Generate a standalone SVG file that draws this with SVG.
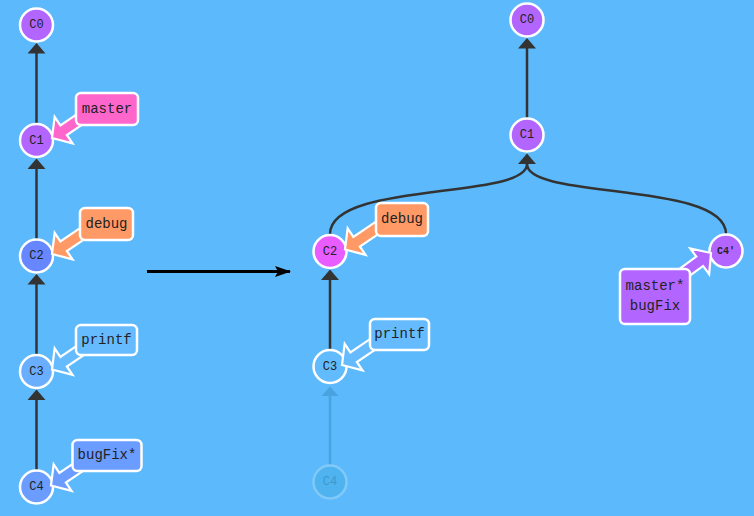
<svg xmlns="http://www.w3.org/2000/svg" xmlns:xlink="http://www.w3.org/1999/xlink" width="754" height="516" viewBox="0 0 754 516">
<style>
.edge{stroke:#333;stroke-width:2.5;fill:none}
.head{fill:#333}
.node{stroke:#fff;stroke-width:2.5}
.ctext{font-family:"Liberation Mono","DejaVu Sans Mono",monospace;font-size:12px;fill:#222;text-anchor:middle;dominant-baseline:central}
.box{stroke:#fff;stroke-width:2.5}
.btext{font-family:"Liberation Mono","Courier New",monospace;font-size:14px;fill:#222;text-anchor:middle;dominant-baseline:central}
.barrow{stroke:#fff;stroke-width:2.2;stroke-linejoin:miter}
</style>
<defs>
<polygon id="ba" points="-42,-5.8 -14,-5.8 -14,-16 0,0 -14,16 -14,5.8 -42,5.8"/>
<marker id="mid" markerWidth="16" markerHeight="12" refX="15" refY="6" orient="auto" markerUnits="userSpaceOnUse">
<path d="M0,0.5 L16,6 L0,11.5 L3,6 Z" fill="#000"/>
</marker>
</defs>
<rect x="0" y="0" width="754" height="516" fill="#5cbafc"/>

<g id="connectors">
<line class="edge" x1="36.5" y1="123" x2="36.5" y2="53"/>
<polygon class="head" points="36.5,43 27.5,53.5 45.5,53.5"/>
<line class="edge" x1="36.5" y1="239" x2="36.5" y2="168"/>
<polygon class="head" points="36.5,158.5 27.5,169 45.5,169"/>
<line class="edge" x1="36.5" y1="354" x2="36.5" y2="284"/>
<polygon class="head" points="36.5,274 27.5,284.5 45.5,284.5"/>
<line class="edge" x1="36.5" y1="470" x2="36.5" y2="399"/>
<polygon class="head" points="36.5,389.5 27.5,400 45.5,400"/>
<line x1="147" y1="271.5" x2="290" y2="271.5" stroke="#000" stroke-width="3" marker-end="url(#mid)"/>
<line class="edge" x1="527" y1="118" x2="527" y2="48"/>
<polygon class="head" points="527,38 518,48.5 536,48.5"/>
<path class="edge" d="M330,234 C330,181 527,200 527,164"/>
<path class="edge" d="M726,234 C726,181 527,200 527,164"/>
<polygon class="head" points="527,153.5 518,164 536,164"/>
<line class="edge" x1="330" y1="350" x2="330" y2="280"/>
<polygon class="head" points="330,269.5 321,280 339,280"/>
<line x1="330" y1="465" x2="330" y2="395" stroke="#4aa3de" stroke-width="2.5"/>
<polygon points="330,386.5 321.5,396 338.5,396" fill="#4aa3de"/>
</g>

<g id="left-C0"><circle class="node" cx="36.5" cy="25" r="16.5" fill="#b266ff"/><text class="ctext" x="36.5" y="25">C0</text></g>
<g id="left-C1"><circle class="node" cx="36.5" cy="140.5" r="16.5" fill="#b266ff"/><text class="ctext" x="36.5" y="140.5">C1</text></g>
<g id="left-C2"><circle class="node" cx="36.5" cy="256" r="16.5" fill="#6687ff"/><text class="ctext" x="36.5" y="256">C2</text></g>
<g id="left-C3"><circle class="node" cx="36.5" cy="371.5" r="16.5" fill="#6aaeff"/><text class="ctext" x="36.5" y="371.5">C3</text></g>
<g id="left-C4"><circle class="node" cx="36.5" cy="487" r="16.5" fill="#6b9cff"/><text class="ctext" x="36.5" y="487">C4</text></g>

<g id="right-C0"><circle class="node" cx="527" cy="20" r="16.5" fill="#b266ff"/><text class="ctext" x="527" y="20">C0</text></g>
<g id="right-C1"><circle class="node" cx="527" cy="135" r="16.5" fill="#b266ff"/><text class="ctext" x="527" y="135">C1</text></g>
<g id="right-C2"><circle class="node" cx="330" cy="251.5" r="16.5" fill="#e95cff"/><text class="ctext" x="330" y="251.5">C2</text></g>
<g id="right-C3"><circle class="node" cx="330" cy="366.5" r="16.5" fill="#62bbfd"/><text class="ctext" x="330" y="366.5">C3</text></g>
<g id="right-C4-ghost"><circle cx="330" cy="482" r="16.5" fill="#4fb3ef" stroke="#80c9f9" stroke-width="2.5"/><text class="ctext" x="330" y="482" style="fill:#3f97d0">C4</text></g>
<g id="right-C4p"><circle class="node" cx="726" cy="251" r="16.5" fill="#b266ff"/><text class="ctext" x="726" y="251" style="font-size:10px;font-weight:bold">C4'</text></g>

<g id="branch-master">
<use xlink:href="#ba" class="barrow" fill="#ff66cc" transform="translate(52,138) rotate(146)"/>
<rect class="box" x="76" y="93" width="62" height="32" rx="5" fill="#ff66cc"/>
<text class="btext" x="107" y="108.5">master</text>
</g>
<g id="branch-debug-left">
<use xlink:href="#ba" class="barrow" fill="#ff9966" transform="translate(52,254) rotate(146)"/>
<rect class="box" x="80" y="208" width="53" height="32" rx="5" fill="#ff9966"/>
<text class="btext" x="106.5" y="223.5">debug</text>
</g>
<g id="branch-printf-left">
<use xlink:href="#ba" class="barrow" fill="#66bbff" transform="translate(52,369.5) rotate(146)"/>
<rect class="box" x="76" y="325" width="61" height="30" rx="5" fill="#66bbff"/>
<text class="btext" x="106.5" y="339.5">printf</text>
</g>
<g id="branch-bugFix-left">
<use xlink:href="#ba" class="barrow" fill="#6b9cff" transform="translate(51,485.5) rotate(146)"/>
<rect class="box" x="72.5" y="440" width="69" height="31" rx="5" fill="#6b9cff"/>
<text class="btext" x="107" y="455">bugFix*</text>
</g>
<g id="branch-debug-right">
<use xlink:href="#ba" class="barrow" fill="#ff9966" transform="translate(345,249.5) rotate(146)"/>
<rect class="box" x="376" y="203" width="52" height="33" rx="5" fill="#ff9966"/>
<text class="btext" x="402" y="219">debug</text>
</g>
<g id="branch-printf-right">
<use xlink:href="#ba" class="barrow" fill="#66bbff" transform="translate(342,365) rotate(146)"/>
<rect class="box" x="370" y="319" width="59" height="31" rx="5" fill="#66bbff"/>
<text class="btext" x="399.5" y="334">printf</text>
</g>
<g id="branch-master-bugFix-right">
<use xlink:href="#ba" class="barrow" fill="#b266ff" transform="translate(711,253) rotate(-36.2)"/>
<rect class="box" x="620" y="269" width="70" height="55" rx="5" fill="#b266ff"/>
<text class="btext" x="655" y="286">master*</text>
<text class="btext" x="655" y="305.5">bugFix</text>
</g>
</svg>
